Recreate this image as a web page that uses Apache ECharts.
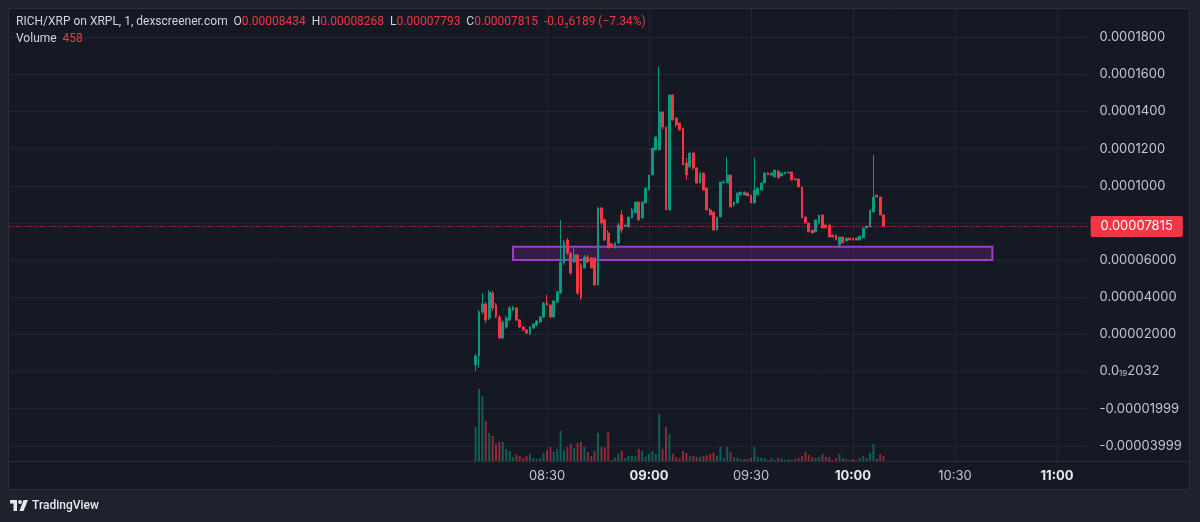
<!DOCTYPE html>
<html><head><meta charset="utf-8">
<script src="https://cdn.jsdelivr.net/npm/echarts@6/dist/echarts.min.js"></script>
<style>html,body{margin:0;padding:0;background:#1e222d;}#c{width:1200px;height:522px;}</style>
</head><body><div id="c"></div>
<script>
// ---- data (prices, 1-minute candles starting 08:09) ----
const firstCandleTime = '08:09';
const opens = [350e-8,835e-8,3205e-8,3636e-8,2882e-8,4229e-8,3582e-8,2936e-8,1805e-8,2397e-8,
2774e-8,3313e-8,3421e-8,2774e-8,2397e-8,2236e-8,2020e-8,2343e-8,2505e-8,2667e-8,
2936e-8,3690e-8,3582e-8,2936e-8,3744e-8,4229e-8,5845e-8,7084e-8,6383e-8,5899e-8,
6276e-8,5737e-8,5575e-8,6168e-8,6114e-8,6114e-8,4660e-8,8807e-8,8161e-8,7461e-8,
6868e-8,6653e-8,6922e-8,8431e-8,7838e-8,7784e-8,8269e-8,8538e-8,9131e-8,8269e-8,
9077e-8,9777e-8,10585e-8,11932e-8,11932e-8,13979e-8,13171e-8,8700e-8,14895e-8,13656e-8,
13387e-8,13117e-8,11232e-8,11016e-8,11771e-8,10962e-8,10154e-8,10693e-8,9885e-8,8700e-8,
8592e-8,7622e-8,8323e-8,10154e-8,10154e-8,10585e-8,8969e-8,9077e-8,9508e-8,9508e-8,
9616e-8,9508e-8,9077e-8,9508e-8,9777e-8,10154e-8,10693e-8,10585e-8,10478e-8,10801e-8,
10532e-8,10639e-8,10693e-8,10747e-8,10370e-8,10370e-8,9939e-8,8323e-8,8000e-8,7622e-8,
7515e-8,8000e-8,8431e-8,7892e-8,7892e-8,7353e-8,7353e-8,6815e-8,7245e-8,7030e-8,
7191e-8,7191e-8,7191e-8,7084e-8,7191e-8,7730e-8,7784e-8,8592e-8,9508e-8,9400e-8,
8434e-8];
const closes = [835e-8,3205e-8,3636e-8,2774e-8,4283e-8,3421e-8,2936e-8,1805e-8,2667e-8,2882e-8,
3421e-8,3475e-8,2774e-8,2397e-8,2236e-8,2074e-8,2397e-8,2559e-8,2720e-8,2936e-8,
3690e-8,3582e-8,2936e-8,3798e-8,4283e-8,5899e-8,6976e-8,6383e-8,5306e-8,6276e-8,
4229e-8,3959e-8,6168e-8,5899e-8,5575e-8,4660e-8,8807e-8,8000e-8,7084e-8,6653e-8,
6707e-8,6922e-8,7892e-8,7622e-8,7892e-8,8323e-8,8700e-8,9131e-8,8161e-8,9131e-8,
9885e-8,10585e-8,12040e-8,12632e-8,13979e-8,13171e-8,8700e-8,14895e-8,13548e-8,13279e-8,
13010e-8,11124e-8,10585e-8,11771e-8,10962e-8,10154e-8,10693e-8,9777e-8,8700e-8,8431e-8,
7622e-8,8323e-8,10208e-8,10208e-8,10585e-8,8862e-8,9131e-8,9616e-8,9669e-8,9669e-8,
9454e-8,9077e-8,9777e-8,9885e-8,10154e-8,10693e-8,10585e-8,10693e-8,10855e-8,10424e-8,
10693e-8,10747e-8,10747e-8,10316e-8,10316e-8,9939e-8,8269e-8,8000e-8,7515e-8,7461e-8,
8161e-8,8431e-8,7730e-8,7730e-8,7245e-8,7245e-8,7084e-8,7245e-8,6922e-8,7191e-8,
7084e-8,7084e-8,7084e-8,7299e-8,7730e-8,7838e-8,8700e-8,9400e-8,9400e-8,8431e-8,
7815e-8];
const highs = [943e-8,3313e-8,4229e-8,3744e-8,4390e-8,4336e-8,3690e-8,3044e-8,2774e-8,2990e-8,
3528e-8,3528e-8,3475e-8,2828e-8,2451e-8,2289e-8,2451e-8,2613e-8,2774e-8,2990e-8,
3744e-8,4121e-8,3636e-8,3852e-8,4336e-8,8161e-8,7084e-8,7191e-8,6437e-8,6653e-8,
6330e-8,5845e-8,6276e-8,6276e-8,6168e-8,6168e-8,8862e-8,8862e-8,8269e-8,7622e-8,
6922e-8,6976e-8,8000e-8,8700e-8,7892e-8,8323e-8,8807e-8,9131e-8,9131e-8,9131e-8,
9885e-8,10585e-8,12040e-8,12632e-8,16403e-8,13979e-8,13171e-8,14895e-8,14895e-8,13656e-8,
13387e-8,13117e-8,11501e-8,11771e-8,11771e-8,11016e-8,10693e-8,10693e-8,9885e-8,8807e-8,
8592e-8,8323e-8,10208e-8,10316e-8,11555e-8,10585e-8,9131e-8,9616e-8,9669e-8,9669e-8,
9616e-8,9508e-8,11501e-8,9885e-8,10154e-8,10693e-8,10747e-8,10693e-8,10855e-8,10801e-8,
10693e-8,10747e-8,10747e-8,10747e-8,10424e-8,10370e-8,9939e-8,8323e-8,8000e-8,7622e-8,
8161e-8,8431e-8,8431e-8,7892e-8,7892e-8,7353e-8,7353e-8,7245e-8,7245e-8,7191e-8,
7191e-8,7191e-8,7191e-8,7299e-8,7730e-8,7838e-8,8700e-8,11663e-8,9508e-8,9400e-8,
8434e-8];
const lows = [27e-8,189e-8,3098e-8,2613e-8,2774e-8,3259e-8,2882e-8,1751e-8,1751e-8,2289e-8,
2720e-8,3259e-8,2720e-8,2343e-8,2182e-8,2020e-8,1966e-8,2289e-8,2451e-8,2613e-8,
2882e-8,3528e-8,2882e-8,2882e-8,3690e-8,4175e-8,5737e-8,6276e-8,5198e-8,5845e-8,
4121e-8,3852e-8,5575e-8,5845e-8,5575e-8,4660e-8,4660e-8,7892e-8,7030e-8,6653e-8,
6653e-8,6653e-8,6868e-8,7461e-8,7784e-8,7730e-8,8269e-8,8538e-8,8161e-8,8269e-8,
9077e-8,9777e-8,10585e-8,11932e-8,11932e-8,13010e-8,8700e-8,8700e-8,13548e-8,13171e-8,
13010e-8,11124e-8,10316e-8,11016e-8,10855e-8,10154e-8,10154e-8,9777e-8,8700e-8,8431e-8,
7622e-8,7622e-8,8323e-8,10154e-8,10154e-8,8862e-8,8862e-8,9077e-8,9508e-8,9508e-8,
9454e-8,9077e-8,9077e-8,9508e-8,9777e-8,10154e-8,10585e-8,10532e-8,10478e-8,10424e-8,
10532e-8,10639e-8,10693e-8,10316e-8,10316e-8,9939e-8,8269e-8,8000e-8,7515e-8,7461e-8,
7515e-8,8000e-8,7730e-8,7730e-8,7245e-8,7245e-8,7084e-8,6653e-8,6922e-8,7030e-8,
7084e-8,7084e-8,7084e-8,7084e-8,7191e-8,7730e-8,7784e-8,8592e-8,9400e-8,8431e-8,
7784e-8];
const volumes = [3128,6624,5980,3680,2576,2300,1564,1748,1748,1104,
920,368,644,460,276,460,644,276,184,276,
736,1012,1288,828,1104,2760,1012,1288,1564,1196,
1656,1748,1288,828,460,920,2576,1288,1288,2668,
92,276,644,920,276,460,460,460,1104,920,
368,644,920,644,4324,1104,3128,2484,644,368,
276,920,736,460,460,368,368,460,552,644,
736,460,1288,276,1288,828,368,276,184,184,
184,276,1288,368,276,276,92,276,92,276,
184,92,184,92,184,276,460,828,552,368,
276,368,644,368,368,92,276,644,276,184,
92,184,92,276,460,276,736,1564,184,644,
458];
const xTickLabels = ['08:30','09:00','09:30','10:00','10:30','11:00'];
const boldTicks = ['09:00','10:00','11:00'];
const yTickValues = [-0.00006,-0.00004,-0.00002,0,0.00002,0.00004,0.00006,0.00008,0.0001,0.00012,0.00014,0.00016,0.00018,0.0002];
const yTickLabels = ['','-0.00003999','-0.00001999','0.0{s|19}2032','0.00002000','0.00004000','0.00006000','','0.0001000','0.0001200','0.0001400','0.0001600','0.0001800',''];
const lastPrice = 0.00007815;
const lastPriceLabel = '0.00007815';
const zoneFrom = '08:20', zoneTo = '10:41';
const zoneLow = 0.00006006, zoneHigh = 0.00006722;
const headerText = '{l|RICH/XRP on XRPL, 1, dexscreener.com}  {l|O}{v|0.00008434}  {l|H}{v|0.00008268}  {l|L}{v|0.00007793}  {l|C}{v|0.00007815}  {v|-0.0}{vs|5}{v|6189 (\u22127.34%)}\n{l|Volume}  {v|458}';

// ---- styling ----
const FONT = 'Inter, Roboto, sans-serif';
const HFONT = 'Roboto, sans-serif';
const UP = '#089981', DOWN = '#f23645';
const VOL_UP = 'rgba(8,153,129,0.55)', VOL_DOWN = 'rgba(242,54,69,0.55)';
const PANE = '#151924', OUTER = '#1e222d', BORDER = '#2a2e39', GRID = '#222632';
const AXIS_TXT = '#c3c6ce';

function hm(m){const h=Math.floor(m/60),mm=m%60;return (h<10?'0':'')+h+':'+(mm<10?'0':'')+mm;}
const axisStartMin = 5*60+52, axisEndMin = 11*60+9;
const cats = [];
for (let m = axisStartMin; m <= axisEndMin; m++) cats.push(hm(m));
const off = cats.indexOf(firstCandleTime);
const candleData = cats.map(() => ['-','-','-','-']);
const volData = cats.map(() => '-');
for (let i = 0; i < opens.length; i++) {
  candleData[off+i] = [opens[i], closes[i], lows[i], highs[i]];
  volData[off+i] = {value: volumes[i], itemStyle: {color: closes[i] >= opens[i] ? VOL_UP : VOL_DOWN}};
}
const yMin = yTickValues[0], yMax = yTickValues[yTickValues.length-1], yInt = 0.00002;

const chart = echarts.init(document.getElementById('c'), null, {renderer:'canvas', width:1200, height:522});
chart.setOption({
  animation: false,
  backgroundColor: PANE,
  title: {
    left: 16, top: 13, padding: 0, text: headerText,
    textStyle: {fontFamily: HFONT, fontSize: 12, fontWeight: 'normal', lineHeight: 17,
      rich: {
        l: {color:'#d1d4dc', fontFamily: HFONT, fontSize: 12, fontWeight:'normal', lineHeight: 17},
        v: {color: DOWN, fontFamily: HFONT, fontSize: 12, fontWeight:'normal', lineHeight: 17},
        vs: {color: DOWN, fontFamily: HFONT, fontSize: 8, fontWeight:'normal', lineHeight: 17, verticalAlign: 'bottom'}
      }}
  },
  grid: [
    {left: 9.8, right: 112.4, top: 0.2, bottom: 39.1},
    {left: 9.8, right: 112.4, top: 385, bottom: 61}
  ],
  xAxis: [
    {type:'category', gridIndex:0, data:cats, boundaryGap:false,
     axisLine:{show:false}, axisTick:{show:false}, axisLabel:{show:false},
     splitLine:{show:true, interval:(i,v)=>xTickLabels.includes(v), lineStyle:{color:GRID, width:1}}},
    {type:'category', gridIndex:1, data:cats, boundaryGap:false, z: 60,
     axisLine:{show:false}, axisTick:{show:false}, splitLine:{show:false},
     axisLabel:{show:true, interval:(i,v)=>xTickLabels.includes(v), margin: 9,
       formatter: v => boldTicks.includes(v) ? '{b|'+v+'}' : '{n|'+v+'}',
       rich: {
         b:{color:'#e6e8ee', fontFamily:FONT, fontSize:13, fontWeight:'bold'},
         n:{color:AXIS_TXT, fontFamily:FONT, fontSize:13}
       }}}
  ],
  yAxis: [
    {type:'value', gridIndex:0, position:'right', min:yMin, max:yMax, interval:yInt,
     axisLine:{show:false}, axisTick:{show:false},
     splitLine:{show:true, lineStyle:{color:GRID, width:1}},
     axisLabel:{show:true, margin: 12, align:'left', color:AXIS_TXT, fontFamily:FONT, fontSize:13,
       formatter: v => { const i = yTickValues.findIndex(t => Math.abs(t - v) < 1e-9); return i < 0 ? '' : yTickLabels[i]; },
       rich: {s:{color:AXIS_TXT, fontFamily:FONT, fontSize:8, verticalAlign:'bottom'}}}},
    {type:'value', gridIndex:1, min:0, max:6992, show:false, splitLine:{show:false}}
  ],
  series: [
    {type:'candlestick', xAxisIndex:0, yAxisIndex:0, data:candleData, barWidth:2.2,
     itemStyle:{color:UP, color0:DOWN, borderColor:UP, borderColor0:DOWN, borderWidth:1}},
    {type:'line', xAxisIndex:0, yAxisIndex:0, data:[], z:5, silent:true,
     markArea:{silent:true, itemStyle:{color:'rgba(156,39,176,0.24)', borderColor:'#a03cc8', borderWidth:2},
       data:[[{xAxis:zoneFrom, yAxis:zoneHigh},{xAxis:zoneTo, yAxis:zoneLow}]]},
     markLine:{silent:true, symbol:['none','none'],
       data:[[{coord:[cats[0], lastPrice]},{coord:[cats[cats.length-1], lastPrice]}]],
       lineStyle:{color:DOWN, type:[1,2], width:1},
       label:{position:'end', formatter:lastPriceLabel, backgroundColor:DOWN, color:'#ffffff',
         padding:[4,10,4,10], borderRadius:2, distance:3, fontSize:13, fontFamily:FONT}}},
    {type:'bar', xAxisIndex:1, yAxisIndex:1, data:volData, barWidth:2}
  ],
  graphic: [
    {type:'rect', z:50, silent:true, shape:{x:8,y:461,width:1182,height:29}, style:{fill:PANE}},
    {type:'rect', z:100, silent:true, shape:{x:0,y:0,width:1200,height:8}, style:{fill:OUTER}},
    {type:'rect', z:100, silent:true, shape:{x:0,y:0,width:8,height:522}, style:{fill:OUTER}},
    {type:'rect', z:100, silent:true, shape:{x:1190,y:0,width:10,height:522}, style:{fill:OUTER}},
    {type:'rect', z:100, silent:true, shape:{x:0,y:490,width:1200,height:32}, style:{fill:OUTER}},
    {type:'rect', z:101, silent:true, shape:{x:8.5,y:8.5,width:1181,height:481}, style:{fill:null, stroke:BORDER, lineWidth:1}},
    {type:'line', z:101, silent:true, shape:{x1:8,y1:461.5,x2:1190,y2:461.5}, style:{stroke:BORDER, lineWidth:1}},
    {type:'rect', z:110, silent:true, shape:{x:10,y:500,width:7,height:3.5}, style:{fill:'#e6e8ee'}},
    {type:'rect', z:110, silent:true, shape:{x:13.5,y:500,width:3.5,height:11}, style:{fill:'#e6e8ee'}},
    {type:'circle', z:110, silent:true, shape:{cx:20,cy:502,r:1.9}, style:{fill:'#e6e8ee'}},
    {type:'polygon', z:110, silent:true, shape:{points:[[23.5,500],[28,500],[23.5,511],[19.5,511]]}, style:{fill:'#e6e8ee'}},
    {type:'text', z:110, silent:true, x:32, y:506, style:{text:'TradingView', fill:'#e6e8ee', font:'500 12px Roboto, sans-serif', verticalAlign:'middle'}}
  ]
});
</script>
</body></html>
